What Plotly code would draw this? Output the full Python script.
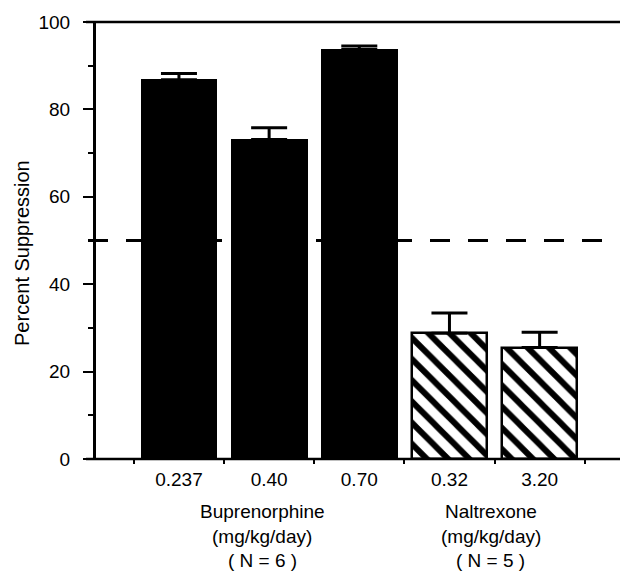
import plotly.graph_objects as go

doses = ["0.237", "0.40", "0.70", "0.32", "3.20"]
drug = ["Buprenorphine", "Buprenorphine", "Buprenorphine", "Naltrexone", "Naltrexone"]
suppression = [86.8, 73.1, 93.7, 28.8, 25.5]
sem = [1.4, 2.7, 0.8, 4.6, 3.5]
criterion = 50
y_ticks = [0, 20, 40, 60, 80, 100]

xpos = list(range(len(doses)))
bup = [i for i, d in enumerate(drug) if d == "Buprenorphine"]
nal = [i for i, d in enumerate(drug) if d == "Naltrexone"]

FONT = "Liberation Sans, Arial, Helvetica, sans-serif"

# page body has an 8px default margin: figure is 620x565 placed at (8, 8)
PW, PH = 532, 438  # plot area size in px

fig = go.Figure()
fig.add_trace(go.Bar(
    x=[xpos[i] for i in bup], y=[suppression[i] for i in bup], width=0.83,
    marker=dict(color="black", line=dict(color="black", width=2)),
    error_y=dict(type="data", symmetric=False, array=[sem[i] for i in bup],
                 arrayminus=[0] * len(bup), color="black", thickness=3, width=18),
    showlegend=False))
fig.add_trace(go.Bar(
    x=[xpos[i] for i in nal], y=[suppression[i] for i in nal], width=0.83,
    marker=dict(color="white", line=dict(color="black", width=2.5),
                pattern=dict(shape="\\", fgcolor="black", bgcolor="white",
                             fgopacity=1, size=15, solidity=0.4)),
    error_y=dict(type="data", symmetric=False, array=[sem[i] for i in nal],
                 arrayminus=[0] * len(nal), color="black", thickness=3, width=18),
    showlegend=False))

# criterion dashed line
fig.add_shape(type="line", xref="paper", yref="y", x0=-8 / PW, x1=1,
              y0=criterion, y1=criterion, layer="below",
              line=dict(color="black", width=3, dash="20px,18px"))
# bottom and top frame lines
for yy in (0, 1):
    fig.add_shape(type="line", xref="paper", yref="paper", x0=-10 / PW, x1=1,
                  y0=yy, y1=yy, line=dict(color="black", width=2.5))

fig.update_layout(
    width=620, height=565,
    margin=dict(l=88, r=0, t=13.5, b=113.5),
    paper_bgcolor="white", plot_bgcolor="white",
    font=dict(family=FONT, color="black", size=19),
    bargap=0,
    xaxis=dict(range=[-0.92, 4.98], tickvals=xpos, ticktext=doses, ticks="",
               showgrid=False, zeroline=False, showline=False,
               ticklabelstandoff=7, tickfont=dict(size=19),
               minor=dict(tickmode="array", tickvals=[i - 0.5 for i in range(len(doses) + 1)],
                          ticks="outside", ticklen=4, tickwidth=2, tickcolor="black",
                          showgrid=False)),
    yaxis=dict(range=[0, 100], tickvals=y_ticks, ticks="outside", ticklen=10,
               tickwidth=2, tickcolor="black", showgrid=False, zeroline=False,
               showline=True, linewidth=3, linecolor="black",
               ticklabelstandoff=9, tickfont=dict(size=19),
               minor=dict(dtick=10, tick0=0, ticks="outside", ticklen=5,
                          tickwidth=2, tickcolor="black", showgrid=False)),
)

fig.add_annotation(text="Percent Suppression", xref="paper", yref="paper",
                   x=-74 / PW, y=(459.5 - 253) / PH, textangle=-90,
                   showarrow=False, font=dict(size=20), xanchor="center", yanchor="middle")

groups = [("Buprenorphine", "(mg/kg/day)", "( N = 6 )", 262),
          ("Naltrexone", "(mg/kg/day)", "( N = 5 )", 491)]
for name, unit, n, cx in groups:
    xp = (cx - 96) / PW
    for txt, py in ((name, 512), (unit, 537), (n, 561)):
        fig.add_annotation(text=txt, xref="paper", yref="paper", x=xp,
                           y=(459.5 - py) / PH, showarrow=False,
                           font=dict(size=19), xanchor="center", yanchor="middle")

fig.write_html("out.html")
